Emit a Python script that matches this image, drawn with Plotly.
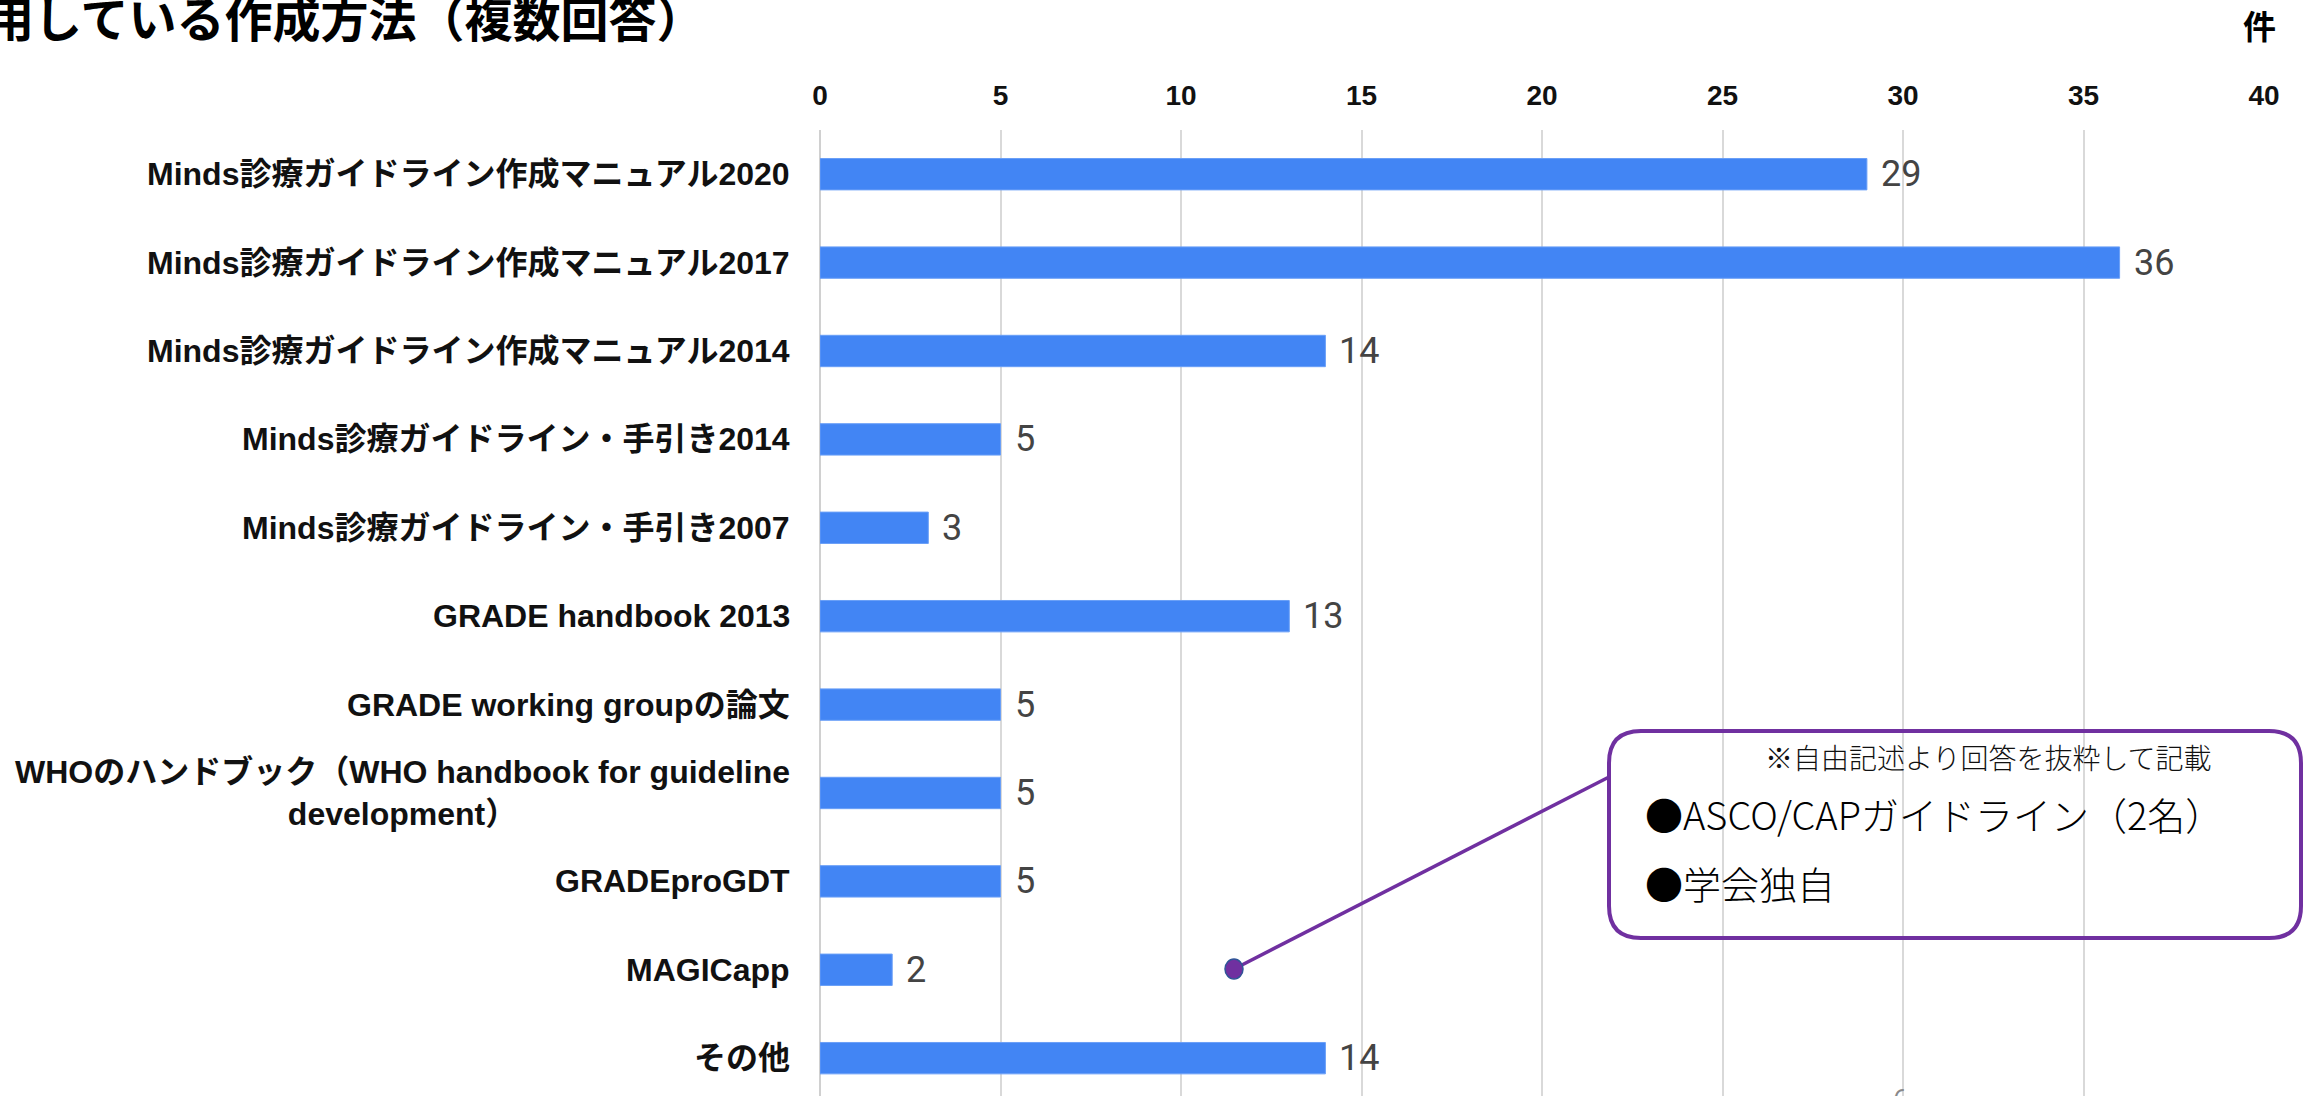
import plotly.graph_objects as go

# ---- data -------------------------------------------------------------
categories = [
    "Minds診療ガイドライン作成マニュアル2020",
    "Minds診療ガイドライン作成マニュアル2017",
    "Minds診療ガイドライン作成マニュアル2014",
    "Minds診療ガイドライン・手引き2014",
    "Minds診療ガイドライン・手引き2007",
    "GRADE handbook 2013",
    "GRADE working groupの論文",
    "WHOのハンドブック（WHO handbook for guideline<br>development）",
    "GRADEproGDT",
    "MAGICapp",
    "その他",
]
counts = [29, 36, 14, 5, 3, 13, 5, 5, 5, 2, 14]
x_ticks = [0, 5, 10, 15, 20, 25, 30, 35, 40]

title_text = "用している作成方法（複数回答）"
unit_text = "件"
note_text = "※自由記述より回答を抜粋して記載"
other_items = ["●ASCO/CAPガイドライン（2名）", "●学会独自"]
page_no = "6"

# ---- layout geometry (pixels) -----------------------------------------
W, H = 2310, 1096
L, R, T, B = 820, 2264, 130, 1096
PW, PH = R - L, B - T


def px(x):
    return (x - L) / PW


def py(y):
    return (B - y) / PH


ARIAL_CJK = "'Liberation Sans', Arial, 'Noto Sans CJK JP', sans-serif"
CJK = "'Noto Sans CJK JP', sans-serif"
PURPLE = "#7030A0"

fig = go.Figure()
fig.add_trace(go.Bar(
    x=counts,
    y=categories,
    orientation="h",
    marker=dict(color="#4285F4", line=dict(color="#6a9ff7", width=1)),
    hoverinfo="x+y",
))

annotations = []

# category labels (centred multi-line text, right-aligned to the axis)
for cat in categories:
    annotations.append(dict(
        xref="paper", yref="y", x=0, y=cat, xanchor="right", yanchor="middle",
        xshift=-28, align="center", text=cat, showarrow=False,
        font=dict(family=ARIAL_CJK, size=32, color="#111111", weight="bold"),
    ))

# value labels
for cat, v in zip(categories, counts):
    annotations.append(dict(
        xref="x", yref="y", x=v, y=cat, xanchor="left", yanchor="middle",
        xshift=12, text=str(v), showarrow=False,
        font=dict(family="Roboto, sans-serif", size=36, color="#444444"),
    ))

# title (runs off the left edge of the page)
annotations.append(dict(
    xref="paper", yref="paper", x=px(-16), y=py(16), xanchor="left",
    yanchor="middle", text=title_text, showarrow=False,
    font=dict(family=CJK, size=48, color="#000000", weight="bold"),
))
# unit
annotations.append(dict(
    xref="paper", yref="paper", x=px(2259), y=py(25), xanchor="center",
    yanchor="middle", text=unit_text, showarrow=False,
    font=dict(family=CJK, size=33, color="#000000", weight="bold"),
))
# callout texts
annotations.append(dict(
    xref="paper", yref="paper", x=px(1763), y=py(757), xanchor="left",
    yanchor="middle", text=note_text, showarrow=False,
    font=dict(family=CJK, size=28, color="#111111", weight=300),
))
for item, yy in zip(other_items, [813, 882]):
    annotations.append(dict(
        xref="paper", yref="paper", x=px(1643), y=py(yy), xanchor="left",
        yanchor="middle", text=item, showarrow=False,
        font=dict(family=CJK, size=38, color="#000000", weight=300),
    ))
# page number, cut by the bottom edge
annotations.append(dict(
    xref="paper", yref="paper", x=px(1900), y=py(1082), xanchor="center",
    yanchor="top", text=page_no, showarrow=False,
    font=dict(family="Roboto, sans-serif", size=26, color="#8a8a8a"),
))

# rounded callout box
bx0, by0, bx1, by1, rr = 1609, 731, 2301, 938, 32


def pt(x, y):
    return f"{px(x):.6f},{py(y):.6f}"


box_path = (
    f"M {pt(bx0 + rr, by0)} L {pt(bx1 - rr, by0)} Q {pt(bx1, by0)} {pt(bx1, by0 + rr)} "
    f"L {pt(bx1, by1 - rr)} Q {pt(bx1, by1)} {pt(bx1 - rr, by1)} "
    f"L {pt(bx0 + rr, by1)} Q {pt(bx0, by1)} {pt(bx0, by1 - rr)} "
    f"L {pt(bx0, by0 + rr)} Q {pt(bx0, by0)} {pt(bx0 + rr, by0)} Z"
)

shapes = [
    dict(type="path", xref="paper", yref="paper", path=box_path,
         line=dict(color=PURPLE, width=4), fillcolor="rgba(0,0,0,0)"),
    dict(type="line", xref="paper", yref="paper",
         x0=px(1236), y0=py(968), x1=px(1609), y1=py(777),
         line=dict(color=PURPLE, width=3.5)),
    dict(type="circle", xref="paper", yref="paper",
         x0=px(1225), y0=py(959), x1=px(1243), y1=py(979),
         fillcolor=PURPLE, line=dict(color="#2F5597", width=1.5)),
]

fig.update_layout(
    width=W, height=H, autosize=False,
    margin=dict(l=L, r=W - R, t=T, b=0, pad=0),
    paper_bgcolor="white", plot_bgcolor="white",
    bargap=0.645,
    showlegend=False,
    annotations=annotations,
    shapes=shapes,
    xaxis=dict(
        range=[0, 40], side="top", tickvals=x_ticks,
        ticktext=[str(t) for t in x_ticks],
        tickfont=dict(family="'Liberation Sans', Arial, sans-serif", size=28,
                      color="#111111", weight="bold"),
        ticklabelstandoff=18,
        showgrid=True, gridcolor="#d9d9d9", gridwidth=2,
        zeroline=True, zerolinecolor="#d0d0d0", zerolinewidth=2,
        showline=False, ticks="", fixedrange=True,
    ),
    yaxis=dict(
        range=[10.428, -0.5], showticklabels=False, showgrid=False,
        zeroline=False, showline=False, ticks="", fixedrange=True,
    ),
)

fig.write_html("out.html", config={"displayModeBar": False})
